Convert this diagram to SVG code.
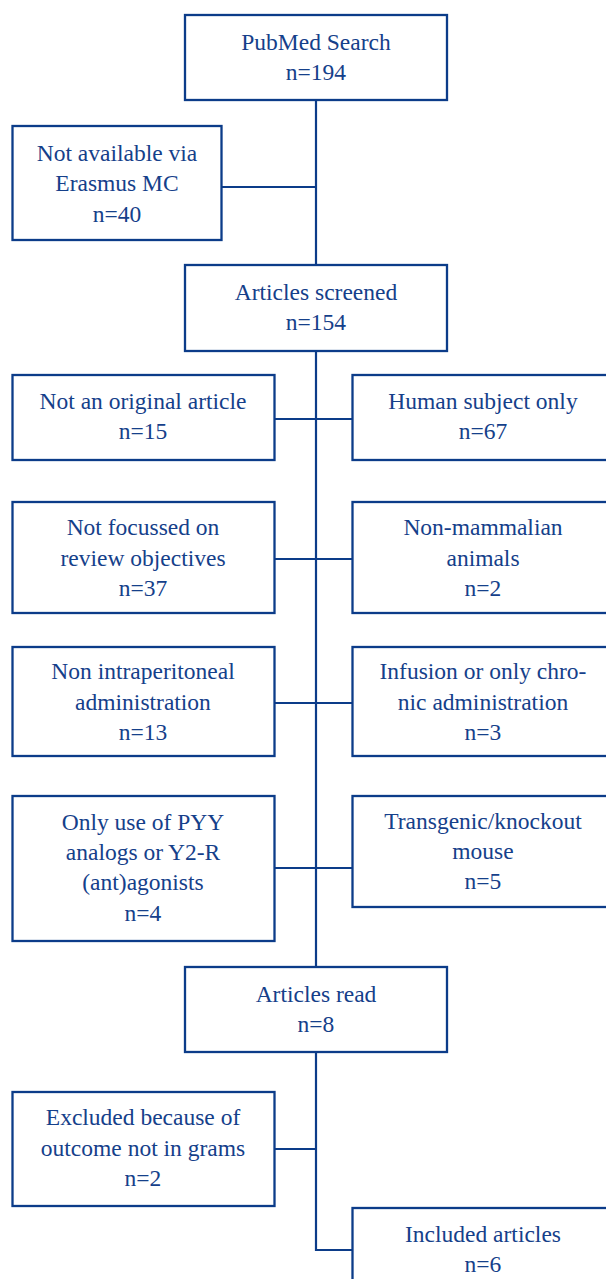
<svg xmlns="http://www.w3.org/2000/svg" width="606" height="1279" viewBox="0 0 606 1279">
<style>
.box{fill:#fff;stroke:#0c3c89;stroke-width:2.3}
.ln{fill:none;stroke:#0c3c89;stroke-width:2.2}
</style>
<rect width="606" height="1279" fill="#fff"/>
<g id="connectors">
<path class="ln" d="M316 100V265M316 352V967M316 1052V1250H352"/>
<path class="ln" d="M221 187H316"/>
<path class="ln" d="M274 419H352"/>
<path class="ln" d="M274 559H352"/>
<path class="ln" d="M274 703H352"/>
<path class="ln" d="M274 868H352"/>
<path class="ln" d="M274 1149H316"/>
</g>
<g font-family="Liberation Serif, Times New Roman, serif" font-size="23.5" fill="#15408a" text-anchor="middle">
<g id="pubmed"><rect class="box" x="185" y="15" width="262" height="85"/>
<text x="316" y="49.5">PubMed Search</text><text x="316" y="80">n=194</text></g>
<g id="notavailable"><rect class="box" x="12.5" y="126" width="209" height="114"/>
<text x="117" y="160.5">Not available via</text><text x="117" y="191">Erasmus MC</text><text x="117" y="221.5">n=40</text></g>
<g id="screened"><rect class="box" x="185" y="265" width="262" height="86"/>
<text x="316" y="300">Articles screened</text><text x="316" y="330">n=154</text></g>
<g id="notoriginal"><rect class="box" x="12.5" y="375" width="262" height="85"/>
<text x="143" y="408.5">Not an original article</text><text x="143" y="439">n=15</text></g>
<g id="human"><rect class="box" x="352.5" y="375" width="262" height="85"/>
<text x="483" y="408.5">Human subject only</text><text x="483" y="439">n=67</text></g>
<g id="notfocussed"><rect class="box" x="12.5" y="502" width="262" height="111"/>
<text x="143" y="535">Not focussed on</text><text x="143" y="565.5">review objectives</text><text x="143" y="596">n=37</text></g>
<g id="nonmammalian"><rect class="box" x="352.5" y="502" width="262" height="111"/>
<text x="483" y="535">Non-mammalian</text><text x="483" y="565.5">animals</text><text x="483" y="596">n=2</text></g>
<g id="nonip"><rect class="box" x="12.5" y="647" width="262" height="109"/>
<text x="143" y="679">Non intraperitoneal</text><text x="143" y="709.5">administration</text><text x="143" y="740">n=13</text></g>
<g id="infusion"><rect class="box" x="352.5" y="647" width="262" height="109"/>
<text x="483" y="679">Infusion or only chro-</text><text x="483" y="709.5">nic administration</text><text x="483" y="740">n=3</text></g>
<g id="onlyuse"><rect class="box" x="12.5" y="796" width="262" height="145"/>
<text x="143" y="830">Only use of PYY</text><text x="143" y="860">analogs or Y2-R</text><text x="143" y="890">(ant)agonists</text><text x="143" y="920.5">n=4</text></g>
<g id="transgenic"><rect class="box" x="352.5" y="796" width="262" height="111"/>
<text x="483" y="828.5">Transgenic/knockout</text><text x="483" y="859">mouse</text><text x="483" y="889">n=5</text></g>
<g id="read"><rect class="box" x="185" y="967" width="262" height="85"/>
<text x="316" y="1001.5">Articles read</text><text x="316" y="1031.5">n=8</text></g>
<g id="excluded"><rect class="box" x="12.5" y="1092" width="262" height="114"/>
<text x="143" y="1125">Excluded because of</text><text x="143" y="1155.5">outcome not in grams</text><text x="143" y="1186">n=2</text></g>
<g id="included"><rect class="box" x="352.5" y="1208" width="262" height="86"/>
<text x="483" y="1242">Included articles</text><text x="483" y="1272">n=6</text></g>
</g>
</svg>
